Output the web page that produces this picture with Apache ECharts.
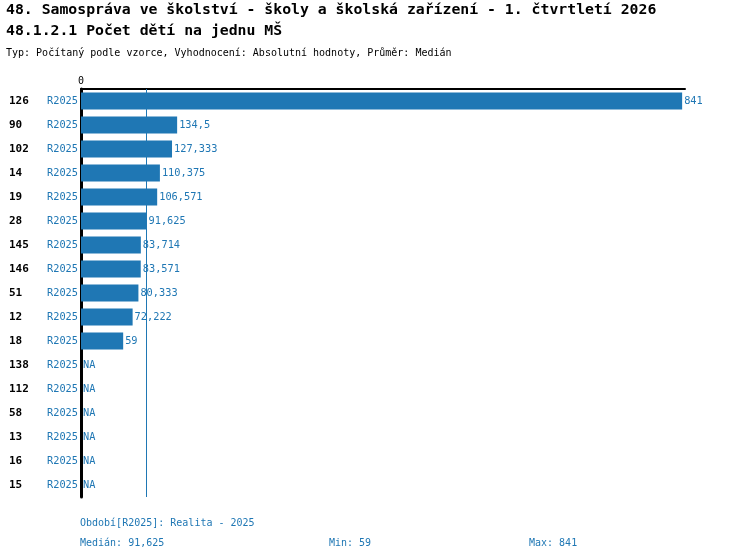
<!DOCTYPE html>
<html><head><meta charset="utf-8">
<script src="https://cdn.jsdelivr.net/npm/echarts@6/dist/echarts.min.js"></script>
<style>html,body{margin:0;padding:0;background:#fff}#c{width:750px;height:560px}</style>
</head><body><div id="c"></div>
<script>
const categories = ['126','90','102','14','19','28','145','146','51','12','18','138','112','58','13','16','15'];
const periodLabel = 'R2025';
const values = [841,134.5,127.333,110.375,106.571,91.625,83.714,83.571,80.333,72.222,59,null,null,null,null,null,null];
const median = 91.625;
const minVal = 59;
const maxVal = 841;

const FONT = '"DejaVu Sans Mono", "Liberation Mono", monospace';
const BLUE = '#1f77b4';
const fmt = v => String(v).replace('.', ',');

const chart = echarts.init(document.getElementById('c'), null, {renderer:'canvas'});
chart.setOption({
  animation:false,
  backgroundColor:'#fff',
  title:[
    {text:'48. Samospráva ve školství - školy a školská zařízení - 1. čtvrtletí 2026', left:1, top:-2,
     textStyle:{fontFamily:FONT,fontSize:14.8,fontWeight:'bold',color:'#000'}},
    {text:'48.1.2.1 Počet dětí na jednu MŠ', left:1, top:19,
     textStyle:{fontFamily:FONT,fontSize:14.8,fontWeight:'bold',color:'#000'}},
    {text:'Typ: Počítaný podle vzorce, Vyhodnocení: Absolutní hodnoty, Průměr: Medián', left:1, top:43,
     textStyle:{fontFamily:FONT,fontSize:10,fontWeight:'normal',color:'#000'}}
  ],
  grid:{left:81, right:65, top:89, bottom:63, containLabel:false},
  xAxis:{type:'value', position:'top', min:0, max:845,
    axisLine:{show:true,lineStyle:{color:'#000',width:2}},
    axisTick:{show:false}, splitLine:{show:false},
    axisLabel:{formatter:v=>v===0?'0':'', fontFamily:FONT,fontSize:10,color:'#000',margin:3}
  },
  yAxis:{type:'category', inverse:true, data:categories,
    axisLine:{show:true,onZero:false,lineStyle:{color:'#000',width:3}},
    axisTick:{show:false},
    axisLabel:{margin:3, formatter:v=>'{a|'+v+'}{b|'+periodLabel+'}',
      rich:{a:{fontFamily:FONT,fontSize:11,fontWeight:'bold',color:'#000',width:37,align:'left'},
            b:{fontFamily:FONT,fontSize:10.3,color:BLUE,width:32,align:'right'}}}
  },
  series:[{
    type:'line', z:1, data:[], symbol:'none',
    markLine:{silent:true,symbol:'none',label:{show:false},
      lineStyle:{color:BLUE,width:1,type:'solid'},
      data:[{xAxis:median}]}
  },{
    type:'bar', barWidth:17, z:3,
    itemStyle:{color:BLUE},
    data:values.map(v=>v===null?{value:0,label:{formatter:'NA'}}:v),
    label:{show:true,position:'right',distance:2,fontFamily:FONT,fontSize:10.3,color:BLUE,
      formatter:p=>fmt(p.value)}
  }],
  graphic:[
    {type:'text',left:80,top:518,style:{text:'Období['+periodLabel+']: Realita - 2025',fontFamily:FONT,fontSize:10,fill:BLUE}},
    {type:'text',left:80,top:538,style:{text:'Medián: '+fmt(median),fontFamily:FONT,fontSize:10,fill:BLUE}},
    {type:'text',left:329,top:538,style:{text:'Min: '+fmt(minVal),fontFamily:FONT,fontSize:10,fill:BLUE}},
    {type:'text',left:529,top:538,style:{text:'Max: '+fmt(maxVal),fontFamily:FONT,fontSize:10,fill:BLUE}}
  ]
});
</script></body></html>
